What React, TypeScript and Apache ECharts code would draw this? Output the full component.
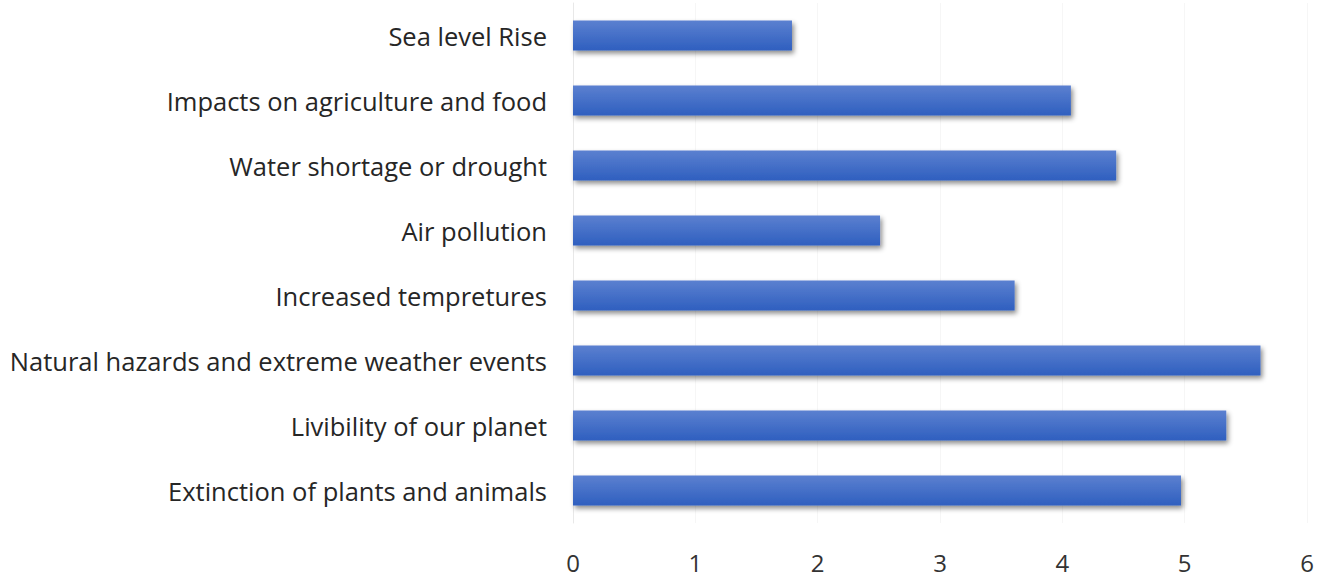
import React, { useEffect, useRef } from "react";
import * as echarts from "echarts";

// Categories listed bottom-to-top (category axis on y starts at the bottom)
const categories = [
  "Extinction of plants and animals",
  "Livibility of our planet",
  "Natural hazards and extreme weather events",
  "Increased tempretures",
  "Air pollution",
  "Water shortage or drought",
  "Impacts on agriculture and food",
  "Sea level Rise",
];

const values = [4.97, 5.34, 5.62, 3.61, 2.51, 4.44, 4.07, 1.79];

const xTicks = [0, 1, 2, 3, 4, 5, 6];

export default function App() {
  const ref = useRef<HTMLDivElement>(null);

  useEffect(() => {
    if (!ref.current) return;
    const chart = echarts.init(ref.current, undefined, { renderer: "svg" });
    chart.setOption({
      animation: false,
      backgroundColor: "#ffffff",
      grid: { left: 573, right: 23, top: 3, bottom: 56, containLabel: false },
      xAxis: {
        type: "value",
        min: xTicks[0],
        max: xTicks[xTicks.length - 1],
        interval: 1,
        axisLine: { show: false },
        axisTick: { show: false },
        splitLine: { show: true, lineStyle: { color: "#f6f6f6", width: 1 } },
        axisLabel: {
          color: "#333333",
          fontFamily: "Open Sans",
          fontSize: 24,
          margin: 27,
        },
      },
      yAxis: {
        type: "category",
        data: categories,
        axisLine: { show: true, lineStyle: { color: "#e8e8e8", width: 1 } },
        axisTick: { show: false },
        axisLabel: {
          color: "#262626",
          fontFamily: "Open Sans",
          fontSize: 25.5,
          margin: 26,
          padding: [0, 0, 4, 0],
        },
      },
      series: [
        {
          type: "bar",
          data: values,
          barWidth: 30,
          itemStyle: {
            color: new echarts.graphic.LinearGradient(0, 0, 0, 1, [
              { offset: 0, color: "#5b80d0" },
              { offset: 1, color: "#2f5fbf" },
            ]),
            shadowColor: "rgba(0,0,0,0.45)",
            shadowBlur: 5,
            shadowOffsetX: 2,
            shadowOffsetY: 3,
          },
        },
      ],
    });
    return () => chart.dispose();
  }, []);

  return (
    <div
      ref={ref}
      style={{ position: "fixed", left: 0, top: 0, width: 1330, height: 579 }}
    />
  );
}
